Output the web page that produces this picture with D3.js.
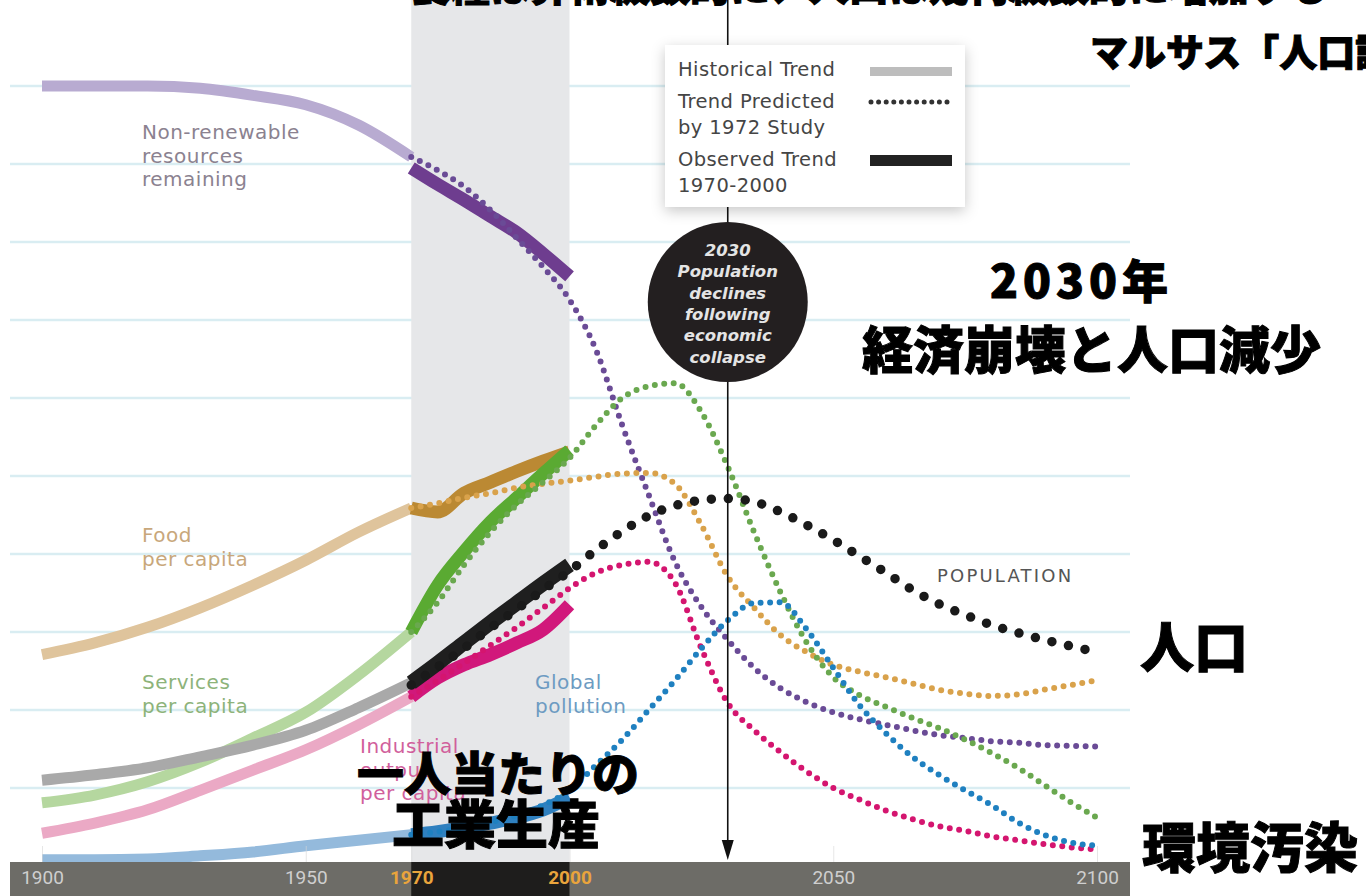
<!DOCTYPE html>
<html>
<head>
<meta charset="utf-8">
<script src="https://cdn.jsdelivr.net/npm/d3@7"></script>
<style>
  html, body { margin: 0; padding: 0; background: #fff; overflow: hidden; }
  svg { display: block; }
</style>
</head>
<body>
<div id="chart"></div>
<script>
// years
const histYears = [1900, 1910, 1920, 1930, 1940, 1950, 1960, 1970];
const obsYears = [1970, 1975, 1980, 1985, 1990, 1995, 2000];
const predYears = [1970, 1975, 1980, 1985, 1990, 1995, 2000, 2005, 2010, 2015, 2020, 2025, 2030,
  2035, 2040, 2045, 2050, 2055, 2060, 2065, 2070, 2075, 2080, 2085, 2090, 2095, 2100];
const tickYears = [1900, 1950, 1970, 2000, 2050, 2100];
const gridValues = [10, 20, 30, 40, 50, 60, 70, 80, 90, 100];

// values on a 0-100 index
const resourcesHist = [100, 100, 100, 99.7, 98.8, 97.6, 95.0, 90.9];
const resourcesObs = [89.5, 87.4, 85.4, 83.3, 81.2, 78.5, 75.6];
const resourcesPred = [90.9, 89.2, 87.1, 84.1, 80.5, 76.8, 72.6, 66.2, 56.5, 47.6, 39.0, 33.2, 29.0,
  25.4, 22.8, 21.0, 19.7, 18.8, 18.1, 17.4, 16.8, 16.4, 16.0, 15.8, 15.5, 15.4, 15.3];

const foodHist = [27.1, 28.6, 30.6, 33.1, 36.0, 39.2, 42.8, 45.9];
const foodObs = [45.9, 45.4, 47.8, 49.2, 50.6, 51.9, 53.1];
const foodPred = [45.9, 46.5, 47.2, 47.8, 48.5, 49.0, 49.4, 49.9, 50.3, 50.4, 49.0, 43.7, 37.1,
  33.1, 29.6, 27.4, 25.8, 24.9, 24.2, 23.4, 22.6, 22.1, 21.8, 22.0, 22.6, 23.2, 23.8];

const servicesHist = [8.1, 9.1, 10.8, 13.3, 16.4, 19.7, 24.5, 30.0];
const servicesObs = [30.0, 36.0, 40.3, 44.1, 47.2, 50.3, 53.3];
const servicesPred = [30.0, 33.8, 38.6, 42.8, 46.3, 49.2, 52.3, 56.5, 60.0, 61.5, 61.9, 58.2, 51.2,
  42.8, 35.1, 28.6, 24.2, 21.9, 20.4, 19.0, 17.7, 16.2, 14.5, 12.6, 10.4, 8.2, 6.2];

const populationHist = [11.0, 11.7, 12.6, 14.0, 15.5, 17.4, 20.3, 23.5];
const populationObs = [23.5, 26.0, 28.6, 31.2, 33.7, 36.2, 38.6];
const populationPred = [23.2, 25.5, 27.9, 30.5, 32.9, 35.4, 37.8, 40.5, 42.9, 44.9, 46.2, 46.9, 47.1,
  46.7, 45.4, 43.7, 41.8, 39.7, 37.6, 35.4, 33.6, 32.2, 30.9, 29.9, 29.0, 28.2, 27.4];

const industryHist = [4.2, 5.5, 7.2, 9.7, 12.3, 14.9, 18.1, 21.7];
const industryObs = [21.7, 24.1, 25.8, 27.1, 28.6, 30.3, 33.5];
const industryPred = [21.7, 23.8, 26.0, 28.3, 30.6, 33.1, 35.6, 37.6, 38.6, 39.0, 36.3, 27.9, 20.9,
  17.4, 14.6, 12.1, 10.0, 8.5, 7.1, 6.0, 5.1, 4.5, 3.8, 3.3, 2.8, 2.4, 2.1];

const pollutionHist = [0.8, 0.8, 0.9, 1.3, 1.8, 2.6, 3.3, 4.0];
const pollutionObs = [4.0, 4.4, 4.9, 5.5, 6.2, 7.2, 8.8];
const pollutionPred = [4.0, 4.4, 4.9, 5.6, 6.5, 7.8, 9.7, 12.9, 16.2, 20.0, 23.8, 27.9, 31.5,
  33.7, 33.8, 30.3, 25.4, 20.6, 17.0, 14.0, 11.7, 9.7, 7.8, 5.6, 4.0, 3.0, 2.6];

const W = 1366, H = 896;
const bandTop = 862;
const latin = "'DejaVu Sans', 'Open Sans', sans-serif";

const x = d3.scaleLinear().domain([1900, 2100]).range([42, 1097]);
const y = d3.scaleLinear().domain([0, 100]).range([866, 86]);

const zip = (years, vals) => years.map((yr, i) => [yr, vals[i]]);

const series = [
  { hist: resourcesHist, obs: resourcesObs, pred: resourcesPred, cHist: "#b8abd1", cObs: "#6e3d8f", cPred: "#6a4b96" },
  { hist: foodHist, obs: foodObs, pred: foodPred, cHist: "#dfc49c", cObs: "#bb8933", cPred: "#d9a24b" },
  { hist: servicesHist, obs: servicesObs, pred: servicesPred, cHist: "#b5d79f", cObs: "#5aaa32", cPred: "#6aa84f" },
  { hist: industryHist, obs: industryObs, pred: industryPred, cHist: "#eba9c5", cObs: "#d1187b", cPred: "#d4156f" },
  { hist: pollutionHist, obs: pollutionObs, pred: pollutionPred, cHist: "#94badc", cObs: "#2f80bf", cPred: "#1f80c0" },
  { hist: populationHist, obs: populationObs, pred: populationPred, cHist: "#a9a9a9", cObs: "#1f1f1f", cPred: "#1a1a1a", big: true }
];

const svg = d3.select("#chart")
  .append("svg")
  .attr("width", W)
  .attr("height", H)
  .style("font-family", latin);

svg.append("rect").attr("width", W).attr("height", H).attr("fill", "#fff");

// drop shadow for the legend box
const defs = svg.append("defs");
const shadow = defs.append("filter").attr("id", "shadow")
  .attr("x", "-20%").attr("y", "-20%").attr("width", "140%").attr("height", "150%");
shadow.append("feDropShadow")
  .attr("dx", 0).attr("dy", 4)
  .attr("stdDeviation", 7)
  .attr("flood-color", "#000")
  .attr("flood-opacity", 0.22);

// grid lines
svg.append("g")
  .selectAll("line")
  .data(gridValues)
  .join("line")
  .attr("x1", 10)
  .attr("x2", 1130)
  .attr("y1", d => y(d))
  .attr("y2", d => y(d))
  .attr("stroke", "#d9edf2")
  .attr("stroke-width", 2.5);

// 1970-2000 shaded band
svg.append("rect")
  .attr("x", x(1970))
  .attr("y", 0)
  .attr("width", x(2000) - x(1970))
  .attr("height", bandTop)
  .attr("fill", "#e6e7e9");

const line = d3.line()
  .x(d => x(d[0]))
  .y(d => y(d[1]))
  .curve(d3.curveMonotoneX);

// historical trend
svg.append("g")
  .selectAll("path")
  .data(series)
  .join("path")
  .attr("d", s => line(zip(histYears, s.hist)))
  .attr("fill", "none")
  .attr("stroke", s => s.cHist)
  .attr("stroke-width", 11)
  .attr("stroke-linejoin", "round");

// observed trend 1970-2000
svg.append("g")
  .selectAll("path")
  .data(series)
  .join("path")
  .attr("d", s => line(zip(obsYears, s.obs)))
  .attr("fill", "none")
  .attr("stroke", s => s.cObs)
  .attr("stroke-width", s => s.big ? 15 : 13)
  .attr("stroke-linejoin", "round");

// trend predicted by 1972 study
svg.append("g")
  .selectAll("path")
  .data(series)
  .join("path")
  .attr("d", s => line(zip(predYears, s.pred)))
  .attr("fill", "none")
  .attr("stroke", s => s.cPred)
  .attr("stroke-width", s => s.big ? 9.5 : 6)
  .attr("stroke-linecap", "round")
  .attr("stroke-dasharray", s => s.big ? "0 17" : "0 9.5");

// series labels
const labels = [
  { lines: ["Non-renewable", "resources", "remaining"], x: 142, y: 139, color: "#8b8290" },
  { lines: ["Food", "per capita"], x: 142, y: 542, color: "#c8a77b" },
  { lines: ["Services", "per capita"], x: 142, y: 689, color: "#8db37a" },
  { lines: ["Global", "pollution"], x: 535, y: 689, color: "#6d9bc2" },
  { lines: ["Industrial", "output", "per capita"], x: 360, y: 753, color: "#d15f9c" }
];

labels.forEach(l => {
  const t = svg.append("text")
    .attr("x", l.x)
    .attr("y", l.y)
    .attr("fill", l.color)
    .style("font-size", "20px")
    .style("letter-spacing", "0.5px");
  l.lines.forEach((s, i) => {
    t.append("tspan").attr("x", l.x).attr("dy", i === 0 ? 0 : 23.5).text(s);
  });
});

svg.append("text")
  .attr("x", 937)
  .attr("y", 582)
  .attr("fill", "#555")
  .style("font-size", "18px")
  .style("letter-spacing", "2.2px")
  .text("POPULATION");

// 2030 marker line with arrow
const xm = x(2030);
svg.append("line")
  .attr("x1", xm).attr("x2", xm)
  .attr("y1", 0).attr("y2", 845)
  .attr("stroke", "#111")
  .attr("stroke-width", 1.6);
svg.append("path")
  .attr("d", `M${xm - 6},840 L${xm + 6},840 L${xm},860 Z`)
  .attr("fill", "#111");

// legend
const lg = svg.append("g").attr("transform", "translate(665,45)");
lg.append("rect")
  .attr("width", 300)
  .attr("height", 162)
  .attr("fill", "#fff")
  .attr("filter", "url(#shadow)");

const legendText = [
  { t: "Historical Trend", y: 31 },
  { t: "Trend Predicted", y: 63 },
  { t: "by 1972 Study", y: 89 },
  { t: "Observed Trend", y: 121 },
  { t: "1970-2000", y: 147 }
];
lg.selectAll("text.lt")
  .data(legendText)
  .join("text")
  .attr("class", "lt")
  .attr("x", 13)
  .attr("y", d => d.y)
  .attr("fill", "#454545")
  .style("font-size", "19.5px")
  .style("letter-spacing", "0.4px")
  .text(d => d.t);

lg.append("rect").attr("x", 205).attr("y", 22).attr("width", 82).attr("height", 9).attr("fill", "#bdbdbd");
lg.append("line")
  .attr("x1", 206).attr("x2", 287)
  .attr("y1", 57).attr("y2", 57)
  .attr("stroke", "#333")
  .attr("stroke-width", 5)
  .attr("stroke-linecap", "round")
  .attr("stroke-dasharray", "0 7.6");
lg.append("rect").attr("x", 205).attr("y", 110).attr("width", 82).attr("height", 11).attr("fill", "#222");

// 2030 circle
svg.append("circle")
  .attr("cx", xm)
  .attr("cy", 302)
  .attr("r", 80)
  .attr("fill", "#231f20");

const circleLines = ["2030", "Population", "declines", "following", "economic", "collapse"];
svg.append("g")
  .selectAll("text")
  .data(circleLines)
  .join("text")
  .attr("x", xm)
  .attr("y", (d, i) => 256 + i * 21.3)
  .attr("text-anchor", "middle")
  .attr("fill", "#e4e4e4")
  .style("font-size", "16.5px")
  .style("font-style", "italic")
  .style("font-weight", 700)
  .text(d => d);

// axis band
svg.append("rect")
  .attr("x", 10)
  .attr("y", bandTop)
  .attr("width", 1120)
  .attr("height", H - bandTop)
  .attr("fill", "#6d6c67");
svg.append("rect")
  .attr("x", x(1970))
  .attr("y", bandTop)
  .attr("width", x(2000) - x(1970))
  .attr("height", H - bandTop)
  .attr("fill", "#1e1d1c");

const axis = svg.append("g")
  .attr("transform", `translate(0,${bandTop})`)
  .call(d3.axisBottom(x)
    .tickValues(tickYears)
    .tickFormat(d3.format("d"))
    .tickSize(-16)
    .tickPadding(9));
axis.select(".domain").remove();
axis.selectAll(".tick line")
  .attr("stroke", "#d6d6d6")
  .attr("stroke-opacity", 0.6);
axis.selectAll(".tick text")
  .attr("fill", d => (d === 1970 || d === 2000) ? "#e9a43c" : "#cfcfcf")
  .style("font-family", "'Liberation Sans Narrow', 'Roboto', sans-serif")
  .style("font-weight", d => (d === 1970 || d === 2000) ? 700 : 400)
  .style("font-size", "19px");

// Japanese annotations
const jp = [
  { t: "食糧は算術級数的に、人口は幾何級数的に増加する", x: 410, y: 1, size: 40 },
  { t: "マルサス「人口論」", x: 1090, y: 66, size: 38 },
  { t: "2030年", x: 990, y: 298, size: 46, ls: 5 },
  { t: "経済崩壊と人口減少", x: 862, y: 369, size: 51 },
  { t: "人口", x: 1140, y: 668, size: 54 },
  { t: "一人当たりの", x: 357, y: 791, size: 47 },
  { t: "工業生産", x: 392, y: 844, size: 52 },
  { t: "環境汚染", x: 1142, y: 868, size: 54 }
];
svg.append("g")
  .selectAll("text")
  .data(jp)
  .join("text")
  .attr("x", d => d.x)
  .attr("y", d => d.y)
  .attr("fill", "#000")
  .attr("stroke", "#000")
  .attr("stroke-width", 1)
  .style("font-family", "'Noto Sans CJK JP', sans-serif")
  .style("font-weight", 900)
  .style("font-size", d => d.size + "px")
  .style("letter-spacing", d => (d.ls || 0) + "px")
  .text(d => d.t);
</script>
</body>
</html>
